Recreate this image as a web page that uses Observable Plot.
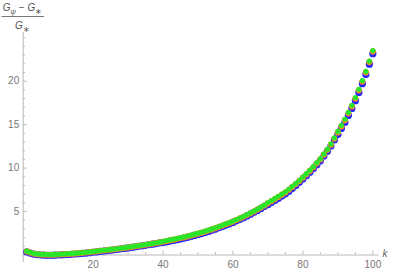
<!DOCTYPE html>
<html><head><meta charset="utf-8">
<script src="https://cdn.jsdelivr.net/npm/d3@7"></script>
<script src="https://cdn.jsdelivr.net/npm/@observablehq/plot@0.6"></script>
<style>body{margin:0;background:#fff}#chart{width:394px;height:273px}</style>
</head><body><div id="chart"></div>
<script>
const kValues = d3.range(1, 101);
const blueValues = [0.36,0.22,0.11,0.04,0.00,-0.02,-0.03,-0.03,-0.02,0.00,
0.02,0.04,0.06,0.09,0.12,0.15,0.19,0.23,0.27,0.32,
0.37,0.42,0.46,0.51,0.55,0.60,0.65,0.71,0.76,0.82,
0.88,0.94,1.00,1.06,1.12,1.19,1.25,1.32,1.39,1.43,
1.51,1.59,1.67,1.76,1.85,1.94,2.04,2.14,2.25,2.36,
2.47,2.59,2.72,2.85,2.99,3.14,3.29,3.44,3.59,3.75,
3.93,4.11,4.30,4.50,4.70,4.91,5.13,5.36,5.60,5.79,
6.03,6.27,6.52,6.78,7.04,7.35,7.67,8.01,8.36,8.74,
9.12,9.52,9.94,10.39,10.84,11.39,11.94,12.54,13.24,13.86,
14.56,15.26,16.06,16.86,17.76,18.71,19.71,20.76,21.96,23.16];
const orangeValues = [0.42,0.28,0.17,0.10,0.06,0.04,0.03,0.03,0.04,0.06,
0.08,0.10,0.12,0.15,0.18,0.21,0.25,0.29,0.33,0.38,
0.43,0.48,0.52,0.57,0.61,0.66,0.71,0.77,0.82,0.88,
0.94,1.00,1.06,1.12,1.18,1.25,1.31,1.38,1.45,1.53,
1.61,1.69,1.77,1.86,1.95,2.04,2.14,2.24,2.35,2.46,
2.57,2.69,2.82,2.95,3.09,3.24,3.39,3.54,3.69,3.85,
4.03,4.21,4.40,4.60,4.80,5.01,5.23,5.46,5.70,5.95,
6.19,6.43,6.68,6.94,7.20,7.51,7.83,8.17,8.52,8.90,
9.28,9.68,10.10,10.55,11.00,11.55,12.10,12.70,13.40,14.10,
14.80,15.50,16.30,17.10,18.00,18.95,19.95,21.00,22.20,23.40];
const greenValues = [0.45,0.31,0.20,0.13,0.09,0.07,0.06,0.06,0.07,0.09,
0.11,0.13,0.15,0.18,0.21,0.24,0.28,0.32,0.36,0.41,
0.46,0.51,0.55,0.60,0.64,0.69,0.74,0.80,0.85,0.91,
0.97,1.03,1.09,1.15,1.21,1.28,1.34,1.41,1.48,1.58,
1.66,1.74,1.82,1.91,2.00,2.09,2.19,2.29,2.40,2.51,
2.62,2.74,2.87,3.00,3.14,3.29,3.44,3.59,3.74,3.90,
4.08,4.26,4.45,4.65,4.85,5.06,5.28,5.51,5.75,6.03,
6.27,6.51,6.76,7.02,7.28,7.59,7.91,8.25,8.60,8.98,
9.36,9.76,10.18,10.63,11.08,11.63,12.18,12.78,13.48,14.22,
14.92,15.62,16.42,17.22,18.12,19.07,20.07,21.12,22.32,23.52];
const xMajorTicks = [20, 40, 60, 80, 100];
const xMinorTicks = [5,10,15,25,30,35,45,50,55,65,70,75,85,90,95];
const yMajorTicks = [5, 10, 15, 20];
const yMinorTicks = [1,2,3,4,6,7,8,9,11,12,13,14,16,17,18,19,21,22,23,24,25];

const toRows = vals => kValues.map((k, i) => ({k, v: vals[i]}));
const axisColor = "#b8b8b8";
const labelColor = "#777";

const plot = Plot.plot({
  width: 394, height: 273,
  marginLeft: 22.7, marginRight: 15.7, marginTop: 32, marginBottom: 11,
  x: {domain: [0, 101.7], axis: null},
  y: {domain: [-0.86, 25.6], axis: null},
  style: {fontFamily: "Liberation Sans, Arial, sans-serif", fontSize: "10px", background: "#fff"},
  marks: [
    Plot.ruleX([0], {stroke: axisColor, strokeWidth: 1}),
    Plot.ruleY([0], {stroke: axisColor, strokeWidth: 1}),
    Plot.ruleX(xMajorTicks, {x: d => d, y1: 0, y2: 0.45, stroke: axisColor}),
    Plot.ruleX(xMinorTicks, {x: d => d, y1: 0, y2: 0.27, stroke: axisColor}),
    Plot.ruleY(yMajorTicks, {y: d => d, x1: 0, x2: 1.15, stroke: axisColor}),
    Plot.ruleY(yMinorTicks, {y: d => d, x1: 0, x2: 0.65, stroke: axisColor}),
    Plot.text(xMajorTicks, {x: d => d, y: 0, dy: 10, text: d => String(d), fill: labelColor}),
    Plot.text(yMajorTicks, {x: 0, y: d => d, dx: -4, textAnchor: "end", text: d => String(d), fill: labelColor}),
    Plot.dot(toRows(blueValues), {x: "k", y: "v", r: 3.6, fill: "#2424ff", stroke: "none"}),
    Plot.dot(toRows(orangeValues), {x: "k", y: "v", r: 3.1, fill: "#f58a1f", stroke: "none"}),
    Plot.dot(toRows(greenValues), {x: "k", y: "v", r: 2.6, fill: "#2ae62a", stroke: "none"})
  ]
});
document.getElementById("chart").appendChild(plot);

// axis titles
const svg = d3.select(plot);
const g = svg.append("g").attr("fill", "#555").attr("font-family", "Liberation Sans, Arial, sans-serif").attr("font-size", 10);
const num = g.append("text").attr("x", 22.5).attr("y", 11).attr("text-anchor", "middle");
num.append("tspan").attr("font-style", "italic").text("G");
num.append("tspan").attr("font-style", "italic").attr("font-size", 7.5).attr("dy", 2.5).text("ψ");
num.append("tspan").attr("dy", -2.5).text(" − ");
num.append("tspan").attr("font-style", "italic").text("G");
num.append("tspan").attr("font-size", 8).attr("dy", 2.5).text("∗");
g.append("line").attr("x1", 1.5).attr("x2", 44).attr("y1", 16.5).attr("y2", 16.5).attr("stroke", "#555").attr("stroke-width", 0.8);
const den = g.append("text").attr("x", 22.5).attr("y", 29).attr("text-anchor", "middle");
den.append("tspan").attr("font-style", "italic").text("G");
den.append("tspan").attr("font-size", 8).attr("dy", 2.5).text("∗");
g.append("text").attr("x", 385).attr("y", 257).attr("font-style", "italic").attr("fill", "#666").text("k");
</script>
</body></html>
